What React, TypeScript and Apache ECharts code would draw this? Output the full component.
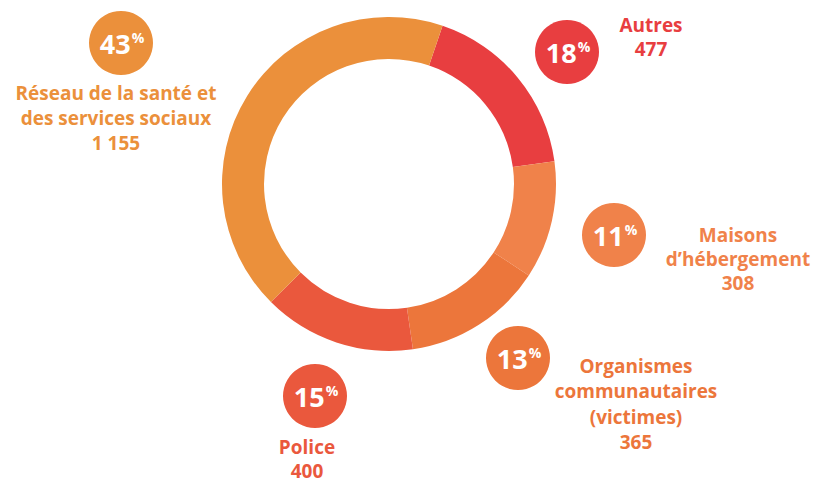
import React, { useEffect, useRef } from "react";
import * as echarts from "echarts";

const categories = [
  "Autres",
  "Maisons\nd’hébergement",
  "Organismes\ncommunautaires\n(victimes)",
  "Police",
  "Réseau de la santé et\ndes services sociaux",
];
const values = [477, 308, 365, 400, 1155];
const colors = ["#E83E40", "#F0824A", "#EC763B", "#EA583D", "#EB903B"];

// layout of the annotation bubbles and their captions
const bubbleLayout = [
  { cx: 567, cy: 52, tx: 651, ty: 37, lh: 24 },
  { cx: 614, cy: 235, tx: 738, ty: 259, lh: 24 },
  { cx: 518, cy: 358, tx: 636, ty: 404, lh: 25.5 },
  { cx: 315, cy: 396, tx: 307, ty: 459, lh: 24 },
  { cx: 121, cy: 43, tx: 116, ty: 118, lh: 25 },
];

const FONT = "'Open Sans', Lato, sans-serif";

function fmt(v: number): string {
  return String(v).replace(/\B(?=(\d{3})+(?!\d))/g, " ");
}

export default function App() {
  const ref = useRef<HTMLDivElement>(null);
  useEffect(() => {
    if (!ref.current) return;
    const chart = echarts.init(ref.current, undefined, { renderer: "svg" });
    const total = values.reduce((a, b) => a + b, 0);
    const graphics: any[] = [];
    values.forEach((v, i) => {
      const L = bubbleLayout[i];
      const pct = Math.round((v / total) * 100);
      graphics.push({
        type: "circle",
        shape: { cx: L.cx, cy: L.cy, r: 32 },
        style: { fill: colors[i] },
        silent: true,
      });
      graphics.push({
        type: "text",
        x: L.cx + 1,
        y: L.cy,
        silent: true,
        style: {
          text: `{n|${pct}}{p|%}`,
          align: "center",
          verticalAlign: "middle",
          rich: {
            n: {
              fontSize: 27,
              fontWeight: "bold",
              fill: "#ffffff",
              fontFamily: FONT,
              lineHeight: 30,
              verticalAlign: "middle",
            },
            p: {
              fontSize: 14,
              fontWeight: "bold",
              fill: "#ffffff",
              fontFamily: FONT,
              lineHeight: 14,
              verticalAlign: "top",
              padding: [2, 0, 0, 1],
            },
          },
        },
      });
      const lines = (categories[i] + "\n" + fmt(v)).split("\n");
      const n = lines.length;
      lines.forEach((line, k) => {
        graphics.push({
          type: "text",
          x: L.tx,
          y: L.ty + (k - (n - 1) / 2) * L.lh,
          silent: true,
          style: {
            text: line,
            align: "center",
            verticalAlign: "middle",
            fontSize: 19,
            fontWeight: "bold",
            fontFamily: FONT,
            fill: colors[i],
            lineHeight: 15,
          },
        });
      });
    });
    chart.setOption({
      animation: false,
      series: [
        {
          type: "pie",
          center: [389, 184],
          radius: [125, 167],
          startAngle: 71.3,
          clockwise: true,
          silent: true,
          label: { show: false },
          labelLine: { show: false },
          itemStyle: { borderWidth: 0 },
          data: values.map((v, i) => ({
            name: categories[i],
            value: v,
            itemStyle: { color: colors[i] },
          })),
        },
      ],
      graphic: graphics,
    });
    return () => chart.dispose();
  }, []);
  return (
    <div
      ref={ref}
      style={{ position: "fixed", left: 0, top: 0, width: 815, height: 483, background: "#fff" }}
    />
  );
}
